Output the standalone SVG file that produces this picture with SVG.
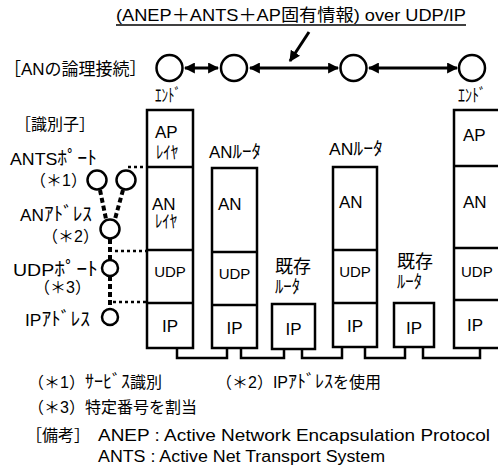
<svg xmlns="http://www.w3.org/2000/svg" width="498" height="468" viewBox="0 0 498 468">
  <style>
    text { font-family: "Liberation Sans", "Noto Sans CJK JP", sans-serif; fill: #000; }
    .lbl { font-size: 16px; }
    .kana { font-size: 19px; }
    .box { fill: #fff; stroke: #000; stroke-width: 2.5; }
    .div { stroke: #000; stroke-width: 2.5; }
    .node { fill: #fff; stroke: #000; stroke-width: 2.5; }
    .link { fill: none; stroke: #000; stroke-width: 3; }
    .dash { fill: none; stroke: #000; stroke-width: 4; stroke-dasharray: 5 3; }
    .dot { fill: none; stroke: #000; stroke-width: 2.5; stroke-dasharray: 3 3; }
    .bus { fill: none; stroke: #000; stroke-width: 2.5; }
  </style>
  <defs>
    <marker id="ah" viewBox="0 0 10 10" refX="9" refY="5" markerWidth="11" markerHeight="11" markerUnits="userSpaceOnUse" orient="auto-start-reverse">
      <path d="M0,0 L10,5 L0,10 z" fill="#000"/>
    </marker>
  </defs>

  <!-- title with underline and pointer -->
  <g id="title">
    <text x="116" y="21" font-size="17" textLength="350" lengthAdjust="spacingAndGlyphs">(ANEP＋ANTS＋AP固有情報) over UDP/IP</text>
    <line x1="116" y1="25" x2="466" y2="25" stroke="#000" stroke-width="1.5"/>
  </g>

  <!-- logical connection row -->
  <text x="4" y="75" font-size="17">［ANの論理接続］</text>
  <g id="node-c1"><circle class="node" cx="169.5" cy="68" r="13"/><text x="155" y="102" font-size="18" textLength="26" lengthAdjust="spacingAndGlyphs">ｴﾝﾄﾞ</text></g>
  <g id="node-c2"><circle class="node" cx="234" cy="68" r="13"/></g>
  <g id="node-c3"><circle class="node" cx="353.5" cy="68" r="13"/></g>
  <g id="node-c4"><circle class="node" cx="472" cy="68" r="13"/><text x="458" y="102" font-size="18" textLength="28" lengthAdjust="spacingAndGlyphs">ｴﾝﾄﾞ</text></g>

  <!-- identifier column -->
  <g id="ids">
    <text class="lbl" x="15" y="130">［識別子］</text>
    <text x="10" y="165" font-size="17" textLength="87" lengthAdjust="spacingAndGlyphs">ANTS<tspan class="kana">ﾎﾟｰﾄ</tspan></text>
    <text class="lbl" x="30" y="186">（＊1）</text>
    <text x="20" y="221" font-size="17" textLength="72" lengthAdjust="spacingAndGlyphs">AN<tspan class="kana">ｱﾄﾞﾚｽ</tspan></text>
    <text class="lbl" x="42" y="242">（＊2）</text>
    <text x="13" y="276" font-size="17" textLength="85" lengthAdjust="spacingAndGlyphs">UDP<tspan class="kana">ﾎﾟｰﾄ</tspan></text>
    <text class="lbl" x="34" y="293">（＊3）</text>
    <text x="25" y="326" font-size="17" textLength="65" lengthAdjust="spacingAndGlyphs">IP<tspan class="kana">ｱﾄﾞﾚｽ</tspan></text>
  </g>

  <!-- end node (left) -->
  <g id="end-left">
    <rect class="box" x="147" y="110" width="46" height="238"/>
    <line class="div" x1="147" y1="167" x2="193" y2="167"/>
    <line class="div" x1="147" y1="250" x2="193" y2="250"/>
    <line class="div" x1="147" y1="303" x2="193" y2="303"/>
    <text x="155" y="138" font-size="17">AP</text>
    <text x="156" y="159" font-size="18" textLength="22" lengthAdjust="spacingAndGlyphs">ﾚｲﾔ</text>
    <text x="152" y="210" font-size="17">AN</text>
    <text x="155" y="228" font-size="18" textLength="22" lengthAdjust="spacingAndGlyphs">ﾚｲﾔ</text>
    <text x="170" y="277" font-size="15" text-anchor="middle">UDP</text>
    <text x="170" y="332" font-size="17" text-anchor="middle">IP</text>
  </g>

  <!-- AN router 1 -->
  <g id="an-router-1">
    <text x="209" y="158" font-size="16" textLength="52" lengthAdjust="spacingAndGlyphs">AN<tspan font-size="18">ﾙｰﾀ</tspan></text>
    <rect class="box" x="212" y="168" width="45" height="180"/>
    <line class="div" x1="212" y1="252" x2="257" y2="252"/>
    <line class="div" x1="212" y1="305" x2="257" y2="305"/>
    <text x="218" y="210" font-size="17">AN</text>
    <text x="234.5" y="279" font-size="15" text-anchor="middle">UDP</text>
    <text x="234.5" y="334" font-size="17" text-anchor="middle">IP</text>
  </g>

  <!-- legacy router 1 -->
  <g id="legacy-router-1">
    <text x="275" y="273" font-size="18">既存</text>
    <text x="275" y="293" font-size="18" textLength="25" lengthAdjust="spacingAndGlyphs">ﾙｰﾀ</text>
    <rect class="box" x="272" y="304" width="43" height="45"/>
    <text x="293.5" y="335" font-size="17" text-anchor="middle">IP</text>
  </g>

  <!-- AN router 2 -->
  <g id="an-router-2">
    <text x="329" y="155" font-size="16" textLength="54" lengthAdjust="spacingAndGlyphs">AN<tspan font-size="18">ﾙｰﾀ</tspan></text>
    <rect class="box" x="333" y="167" width="44" height="180"/>
    <line class="div" x1="333" y1="250" x2="377" y2="250"/>
    <line class="div" x1="333" y1="303" x2="377" y2="303"/>
    <text x="339" y="208" font-size="17">AN</text>
    <text x="355" y="277" font-size="15" text-anchor="middle">UDP</text>
    <text x="355" y="332" font-size="17" text-anchor="middle">IP</text>
  </g>

  <!-- legacy router 2 -->
  <g id="legacy-router-2">
    <text x="397" y="268" font-size="18">既存</text>
    <text x="397" y="288" font-size="18" textLength="25" lengthAdjust="spacingAndGlyphs">ﾙｰﾀ</text>
    <rect class="box" x="394" y="303" width="40" height="44"/>
    <text x="414" y="334" font-size="17" text-anchor="middle">IP</text>
  </g>

  <!-- end node (right) -->
  <g id="end-right">
    <rect class="box" x="454" y="110" width="60" height="238"/>
    <line class="div" x1="454" y1="166" x2="514" y2="166"/>
    <line class="div" x1="454" y1="248" x2="514" y2="248"/>
    <line class="div" x1="454" y1="300" x2="514" y2="300"/>
    <text x="463" y="141" font-size="17">AP</text>
    <text x="463" y="208" font-size="17">AN</text>
    <text x="461" y="277" font-size="15">UDP</text>
    <text x="467" y="331" font-size="17">IP</text>
  </g>

  <!-- identifier circles -->
  <g id="id-circles">
    <circle class="node" cx="97" cy="180" r="9.5"/>
    <circle class="node" cx="126" cy="180" r="9.5"/>
    <circle class="node" cx="110" cy="229" r="9.5"/>
    <circle class="node" cx="110" cy="268" r="8"/>
    <circle class="node" cx="110" cy="317" r="8"/>
  </g>

  <!-- connectors -->
  <g id="connectors">
    <line class="link" x1="185" y1="68" x2="218" y2="68" marker-start="url(#ah)" marker-end="url(#ah)"/>
    <line class="link" x1="250" y1="68" x2="338" y2="68" marker-start="url(#ah)" marker-end="url(#ah)"/>
    <line class="link" x1="369" y1="68" x2="457" y2="68" marker-start="url(#ah)" marker-end="url(#ah)"/>
    <line class="link" x1="309" y1="32" x2="290" y2="61" marker-end="url(#ah)"/>

    <line class="dash" x1="100" y1="190" x2="106" y2="219"/>
    <line class="dash" x1="123" y1="190" x2="115" y2="219"/>
    <line class="dash" x1="110" y1="239" x2="110" y2="260"/>
    <line class="dash" x1="110" y1="276" x2="110" y2="309"/>

    <line class="dot" x1="128" y1="167" x2="146" y2="167"/>
    <line class="dot" x1="115" y1="251" x2="146" y2="251"/>
    <line class="dot" x1="113" y1="302" x2="146" y2="302"/>

    <path class="bus" d="M177,348 V358 H227 V348"/>
    <path class="bus" d="M241,348 V358 H284 V349"/>
    <path class="bus" d="M302,349 V358 H342 V347"/>
    <path class="bus" d="M365,347 V358 H405 V347"/>
    <path class="bus" d="M423,347 V358 H480 V348"/>
  </g>

  <!-- notes -->
  <g id="notes">
    <text class="lbl" x="28" y="388">（＊1）<tspan font-size="18">ｻｰﾋﾞｽ</tspan>識別</text>
    <text class="lbl" x="216" y="388">（＊2）IP<tspan font-size="18">ｱﾄﾞﾚｽ</tspan>を使用</text>
    <text class="lbl" x="28" y="413">（＊3）特定番号を割当</text>
    <text class="lbl" x="26" y="441">［備考］</text>
    <text class="lbl" x="98" y="441" textLength="392" lengthAdjust="spacingAndGlyphs">ANEP : Active Network Encapsulation Protocol</text>
    <text class="lbl" x="98" y="462" textLength="287" lengthAdjust="spacingAndGlyphs">ANTS : Active Net Transport System</text>
  </g>
</svg>
